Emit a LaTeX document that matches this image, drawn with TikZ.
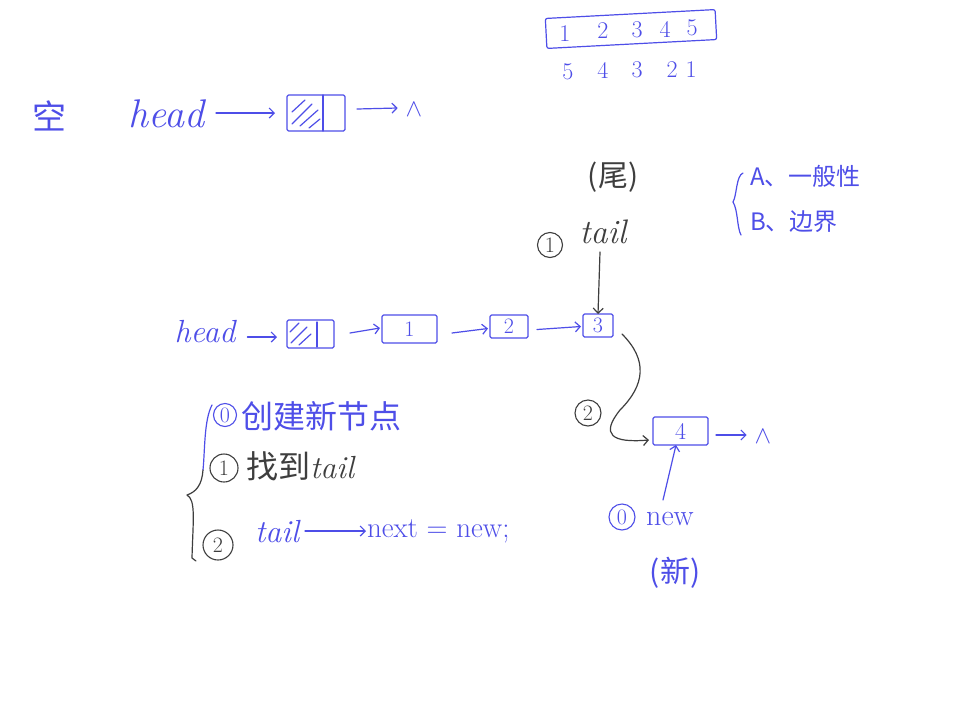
\documentclass[tikz,border=0pt]{standalone}
\usepackage{fontspec}
\newfontfamily\cjk{Noto Sans CJK SC}
\usetikzlibrary{arrows.meta,calc}
\definecolor{ink}{RGB}{78,78,232}
\definecolor{pen}{RGB}{62,62,62}
\begin{document}
\begin{tikzpicture}[x=1pt,y=-1pt,
  every node/.style={inner sep=0pt,outer sep=0pt},
  inkline/.style={draw=ink,line width=1.2pt,line cap=round,line join=round},
  penline/.style={draw=pen,line width=1.2pt,line cap=round,line join=round},
  box/.style={inkline,rounded corners=1.5pt,anchor=north west},
  arr/.style={inkline,-{Straight Barb[length=5pt,width=10pt,line width=1.2pt]}},
  parr/.style={penline,-{Straight Barb[length=5pt,width=10pt,line width=1.2pt]}},
  circ/.style={circle,line width=1.1pt,font=\fontsize{22}{22}\selectfont},
  inktext/.style={text=ink},
  pentext/.style={text=pen},
  digit/.style={text=ink,font=\fontsize{24}{24}\selectfont},
  boxnum/.style={text=ink,font=\fontsize{22}{22}\selectfont},
  nul/.style={text=ink,font=\fontsize{26}{26}\selectfont}]
\useasboundingbox (0,0) rectangle (977,710);
\fill[white] (0,0) rectangle (977,710);

% ---- top array ----
\node[inkline,rounded corners=2pt,minimum width=170pt,minimum height=30pt,rotate=3] (arr) at (631,29) {};
\node[digit] (a1) at (565,34) {1};
\node[digit] (a2) at (603,31) {2};
\node[digit] (a3) at (637,30) {3};
\node[digit] (a4) at (665,29) {4};
\node[digit] (a5) at (692,28) {5};
\node[digit] (b5) at (568,72) {5};
\node[digit] (b4) at (603,70) {4};
\node[digit] (b3) at (637,70) {3};
\node[digit] (b2) at (672,70) {2};
\node[digit] (b1) at (691,70) {1};

% ---- empty list ----
\node[inktext,font=\cjk\fontsize{34}{34}\selectfont] (kong) at (49,116) {空};
\node[inktext,font=\itshape\fontsize{40}{40}\selectfont] (head1) at (166,114) {head};
\node[box,minimum width=58pt,minimum height=36pt] (hb1) at (287,95) {};
\draw[inkline] (323,95) -- (323,131);
\draw[inkline] (292,112) -- (305,100) (292,124) -- (312,104) (300,126) -- (318,110) (309,128) -- (320,119);
\node[nul] (null1) at (414,110) {$\wedge$};
\draw[arr] (head1.east) ++(12,-1) coordinate (h1s) -- ($(hb1.west |- h1s)+(-12,0)$);
\draw[arr] ($(hb1.east)+(12,-4)$) -- ($(null1.west)+(-8,-2)$);

% ---- main list ----
\node[inktext,font=\itshape\fontsize{32}{32}\selectfont] (head2) at (205,332) {head};
\node[box,minimum width=47pt,minimum height=28pt] (hb2) at (287,320) {};
\draw[inkline] (317,322) -- (317,347);
\draw[inkline] (290,332) -- (299,323) (291,343) -- (307,327) (299,345) -- (311,334);
\node[box,minimum width=55pt,minimum height=28pt] (n1) at (382,315) {};
\node[boxnum] at (n1.center) {1};
\node[box,minimum width=38pt,minimum height=23pt] (n2) at (490,315) {};
\node[boxnum] at (n2.center) {2};
\node[box,minimum width=30pt,minimum height=23pt] (n3) at (583,314) {};
\node[boxnum] at (n3.center) {3};
\draw[arr] ($(head2.east)+(12,5)$) -- ($(hb2.west)+(-10,3)$);
\draw[arr] ($(hb2.east)+(16,-1)$) -- ($(n1.west)+(-2,-1)$);
\draw[arr] ($(n1.east)+(15,4)$) -- ($(n2.west)+(-2,2)$);
\draw[arr] ($(n2.east)+(9,3)$) -- ($(n3.west)+(-2,1)$);

% ---- tail pointer ----
\node[pentext,font=\cjk\fontsize{30}{30}\selectfont] (wei) at (613,177) {(尾)};
\node[pentext,font=\itshape\fontsize{34}{34}\selectfont] (tail) at (603,232) {tail};
\node[circ,draw=pen,text=pen,minimum size=25pt] (c1) at (550,245) {1};
\draw[parr] (600,252) -- (n3.north -| 598,0);

% ---- new node ----
\node[box,minimum width=55pt,minimum height=28pt] (n4) at (653,417) {};
\node[boxnum,font=\fontsize{24}{24}\selectfont] at (n4.center) {4};
\node[nul] (null2) at (763,437) {$\wedge$};
\draw[arr] ($(n4.east)+(8,4)$) -- ($(null2.west)+(-8,-2)$);
\draw[parr] ($(n3.south east)+(9,-3)$) .. controls (648,360) and (645,385) .. (620,410) .. controls (600,435) and (612,443) .. ($(n4.west)+(-4,9)$);
\node[circ,draw=pen,text=pen,minimum size=26pt] (c2) at (588,413) {2};
\node[inktext,font=\fontsize{30}{30}\selectfont] (new) at (670,519) {new};
\node[circ,draw=ink,text=ink,minimum size=26pt] (c0) at (622,517) {0};
\node[inktext,font=\cjk\fontsize{30}{30}\selectfont] (xin) at (675,573) {(新)};
\draw[arr] (663,500) -- (n4.south -| 676,0);

% ---- A / B brace ----
\draw[inkline] (743,173) .. controls (736,176) and (737,195) .. (733,202) .. controls (738,210) and (737,228) .. (741,235);
\node[inktext,font=\cjk\fontsize{24}{24}\selectfont,anchor=west] (ta) at (750,176) {A、一般性};
\node[inktext,font=\cjk\fontsize{24}{24}\selectfont,anchor=west] (tb) at (750,222) {B、边界};

% ---- steps brace ----
\draw[inkline] (212,405) .. controls (204,420) and (205,450) .. (203,470);
\draw[penline] (203,470) .. controls (202,485) and (196,492) .. (187,495) .. controls (196,500) and (193,520) .. (192,558) -- (196,561);

% ---- steps ----
\node[circ,draw=ink,text=ink,minimum size=23pt] (s0) at (225,415) {0};
\node[inktext,font=\cjk\fontsize{32}{32}\selectfont,anchor=west] (t0) at (241,416) {创建新节点};
\node[circ,draw=pen,text=pen,minimum size=28pt] (s1) at (224,468) {1};
\node[pentext,anchor=west] (t1) at (246,466) {{\cjk\fontsize{32}{32}\selectfont 找到}{\rmfamily\itshape\fontsize{32}{32}\selectfont tail}};
\node[circ,draw=pen,text=pen,minimum size=30pt] (s2) at (218,545) {2};
\node[inktext,font=\itshape\fontsize{32}{32}\selectfont,anchor=west] (t2a) at (255,532) {tail};
\node[inktext,font=\fontsize{29}{29}\selectfont,anchor=west] (t2b) at (367,531) {next = new;};
\draw[arr] (t2a.east) ++(6,-1) coordinate (t2s) -- ($(t2b.west |- t2s)+(-1,0)$);
\end{tikzpicture}
\end{document}
